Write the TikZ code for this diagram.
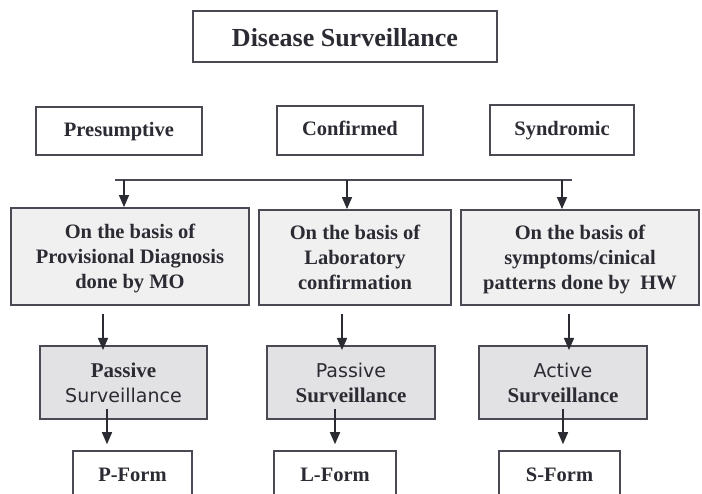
\documentclass[tikz,border=0pt]{standalone}
\usepackage{fontspec}
\setmainfont{Liberation Serif}
\newfontfamily\sansfam{DejaVu Sans}
\usetikzlibrary{arrows.meta}
\definecolor{ink}{HTML}{2B2B33}
\definecolor{edge}{HTML}{4A4A55}
\definecolor{lightfill}{HTML}{F0F0F0}
\definecolor{midfill}{HTML}{E2E2E4}
\newcommand{\serifline}{\bfseries\fontsize{21}{25}\selectfont}
\newcommand{\sansline}{\sansfam\mdseries\fontsize{19}{25}\selectfont}
\newcommand{\firstlinestrut}{\rule{0pt}{20pt}}
\newcommand{\lastlinestrut}{\rule[-5pt]{0pt}{5pt}}
\tikzset{
  box/.style={draw=edge, line width=1.5pt, inner sep=0pt, align=center,
    text=ink, font=\bfseries\fontsize{20.5}{25}\selectfont},
  onebox/.style={box, text height=15pt, text depth=4pt},
  titlebox/.style={box, font=\bfseries\fontsize{26}{30}\selectfont,
    text height=24pt, text depth=4pt},
  basisbox/.style={box, fill=lightfill, line width=1.8pt},
  survbox/.style={box, fill=midfill, line width=2pt},
  arr/.style={draw=ink, line width=1.4pt,
    -{Triangle[width=10pt,length=12pt]}},
  bar/.style={draw=edge, line width=1.6pt}
}
\begin{document}
\begin{tikzpicture}[x=1pt, y=-1pt]
  \useasboundingbox[fill=white] (0,0) rectangle (702,494);
  \clip (0,0) rectangle (702,494);

  % Top level
  \node[titlebox, minimum width=304pt, minimum height=51pt] (top) at (345,36.5) {Disease Surveillance};

  % Three kinds of surveillance
  \node[onebox, minimum width=166pt, minimum height=48pt] (pre) at (119,131) {Presumptive};
  \node[onebox, minimum width=146pt, minimum height=49pt] (conf) at (350,130.5) {Confirmed};
  \node[onebox, minimum width=144pt, minimum height=50pt] (syn) at (562,130) {Syndromic};

  % Basis of each kind
  \node[basisbox, minimum width=238pt, minimum height=97pt] (b1) at (130,256.5)
    {\firstlinestrut On the basis of\\Provisional Diagnosis\\done by MO\lastlinestrut};
  \node[basisbox, minimum width=192pt, minimum height=95pt] (b2) at (355,257.5)
    {\firstlinestrut On the basis of\\Laboratory\\confirmation\lastlinestrut};
  \node[basisbox, minimum width=238pt, minimum height=95pt] (b3) at (580,257.5)
    {\firstlinestrut On the basis of\\symptoms/cinical\\patterns done by\ \ HW\lastlinestrut};

  % Type of surveillance
  \node[survbox, minimum width=167pt, minimum height=73pt] (p1) at (123.5,382.5)
    {\serifline Passive\\\sansline Surveillance};
  \node[survbox, minimum width=168pt, minimum height=73pt] (p2) at (351,382.5)
    {\sansline Passive\\\serifline Surveillance};
  \node[survbox, minimum width=168pt, minimum height=73pt] (p3) at (563,382.5)
    {\sansline Active\\\serifline Surveillance};

  % Reporting forms
  \node[onebox, minimum width=119pt, minimum height=50pt] (f1) at (132.5,476) {P-Form};
  \node[onebox, minimum width=122pt, minimum height=50pt] (f2) at (335,476) {L-Form};
  \node[onebox, minimum width=121pt, minimum height=50pt] (f3) at (559.5,476) {S-Form};

  % Distribution bar
  \coordinate (barL) at (115,180);
  \coordinate (barR) at (572,180);
  \coordinate (t1) at (124,180);
  \coordinate (t2) at (347,180);
  \coordinate (t3) at (562,180);
  \draw[bar] (barL) -- (barR);
  \draw[arr] (t1) -- (t1 |- b1.north);
  \draw[arr] (t2) -- (t2 |- b2.north);
  \draw[arr] (t3) -- (t3 |- b3.north);

  % Basis to surveillance type
  \draw[arr] ([xshift=-27pt,yshift=-8pt]b1.south) -- ([xshift=-27pt,yshift=-5pt]b1.south |- p1.north);
  \draw[arr] ([xshift=-13pt,yshift=-8pt]b2.south) -- ([xshift=-13pt,yshift=-5pt]b2.south |- p2.north);
  \draw[arr] ([xshift=-11pt,yshift=-8pt]b3.south) -- ([xshift=-11pt,yshift=-5pt]b3.south |- p3.north);

  % Surveillance type to form
  \draw[arr] ([xshift=-16.5pt,yshift=11pt]p1.south) -- ([xshift=-16.5pt,yshift=6pt]p1.south |- f1.north);
  \draw[arr] ([xshift=-16pt,yshift=11pt]p2.south) -- ([xshift=-16pt,yshift=6pt]p2.south |- f2.north);
  \draw[arr] ([yshift=11pt]p3.south) -- ([yshift=6pt]p3.south |- f3.north);
\end{tikzpicture}
\end{document}
